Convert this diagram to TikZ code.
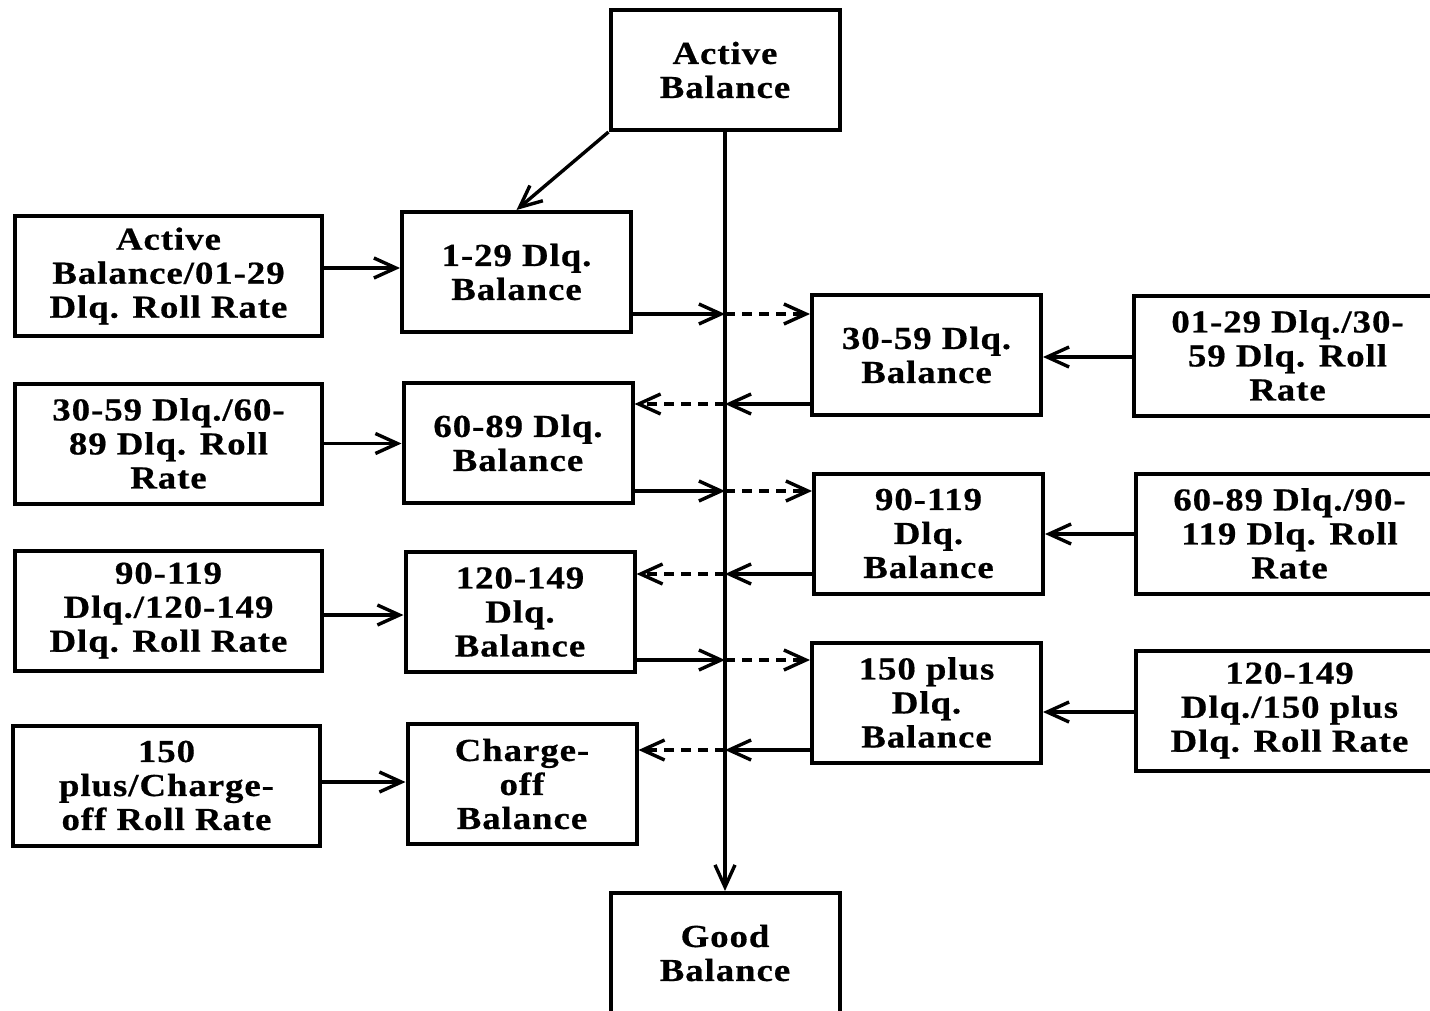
\documentclass[tikz,border=0pt]{standalone}
\usepackage{fontspec}
\newfontfamily\boxfont{Liberation Serif}[FakeStretch=1.15,LetterSpace=3,FakeBold=0.6]
\usetikzlibrary{positioning, arrows.meta, calc}

\begin{document}
\begin{tikzpicture}[
    x=0.5pt, y=-0.5pt,
    box/.style={draw, rectangle, line width=2pt, minimum width=114.5pt, minimum height=60pt, align=center, inner sep=0pt,
        font=\boxfont\bfseries\fontsize{16}{17}\selectfont},
    ratebox/.style={box, minimum width=153.5pt},
    arr/.style={-{Straight Barb[length=11pt,width=10pt,line width=1.7pt]}, line width=1.7pt},
    darr/.style={arr, dash pattern=on 5pt off 3.5pt}
]
    \useasboundingbox (0,0) rectangle (1430,1011);

    % top and bottom
    \node[box] (act) at (725,70) {Active\\Balance};
    \node[box] (good) at (725,953) {Good\\Balance};

    % left rates
    \node[ratebox] (rate1) at (168.5,276) {Active\\Balance/01-29\\Dlq. Roll Rate};
    \node[ratebox] (rate2) at (168.5,443.5) {30-59 Dlq./60-\\89 Dlq. Roll\\Rate};
    \node[ratebox] (rate3) at (168.5,610.5) {90-119\\Dlq./120-149\\Dlq. Roll Rate};
    \node[ratebox] (rate4) at (166.5,785.5) {150\\plus/Charge-\\off Roll Rate};

    % left balances
    \node[box] (bal129) at (516.5,272) {1-29 Dlq.\\Balance};
    \node[box] (bal6089) at (518,443) {60-89 Dlq.\\Balance};
    \node[box] (bal120) at (520,612) {120-149\\Dlq.\\Balance};
    \node[box] (balco) at (522,784) {Charge-\\off\\Balance};

    % right balances
    \node[box] (bal3059) at (926.5,355) {30-59 Dlq.\\Balance};
    \node[box] (bal90) at (928.5,533.5) {90-119\\Dlq.\\Balance};
    \node[box] (bal150) at (926.5,702.5) {150 plus\\Dlq.\\Balance};

    % right rates
    \node[ratebox] (rrate1) at (1287.5,355.5) {01-29 Dlq./30-\\59 Dlq. Roll\\Rate};
    \node[ratebox] (rrate2) at (1289.5,533.5) {60-89 Dlq./90-\\119 Dlq. Roll\\Rate};
    \node[ratebox] (rrate3) at (1289.5,710.5) {120-149\\Dlq./150 plus\\Dlq. Roll Rate};

    % junctions on the main line
    \coordinate (j1) at (725,314);
    \coordinate (j2) at (725,404);
    \coordinate (j3) at (725,491);
    \coordinate (j4) at (725,574);
    \coordinate (j5) at (725,660);
    \coordinate (j6) at (725,750);

    \draw[arr] (act.south) -- (good.north);
    \draw[arr] (act.south west) -- (bal129.north);

    \draw[arr] (rate1.east |- 0,268) -- (bal129.west |- 0,268);
    \draw[arr] (rate2.east) -- (rate2.east -| bal6089.west);
    \draw[arr] (rate3.east |- 0,615) -- (bal120.west |- 0,615);
    \draw[arr] (rate4.east |- 0,782) -- (balco.west |- 0,782);

    \draw[arr] (rrate1.west |- 0,357) -- (bal3059.east |- 0,357);
    \draw[arr] (rrate2.west |- 0,534) -- (bal90.east |- 0,534);
    \draw[arr] (rrate3.west |- 0,712) -- (bal150.east |- 0,712);

    % roll flows
    \draw[arr] (j1 -| bal129.east) -- (j1);
    \draw[darr] (j1) -- (j1 -| bal3059.west);
    \draw[arr] (j2 -| bal3059.west) -- (j2);
    \draw[darr] (j2) -- (j2 -| bal6089.east);
    \draw[arr] (j3 -| bal6089.east) -- (j3);
    \draw[darr] (j3) -- (j3 -| bal90.west);
    \draw[arr] (j4 -| bal90.west) -- (j4);
    \draw[darr] (j4) -- (j4 -| bal120.east);
    \draw[arr] (j5 -| bal120.east) -- (j5);
    \draw[darr] (j5) -- (j5 -| bal150.west);
    \draw[arr] (j6 -| bal150.west) -- (j6);
    \draw[darr] (j6) -- (j6 -| balco.east);
\end{tikzpicture}
\end{document}
